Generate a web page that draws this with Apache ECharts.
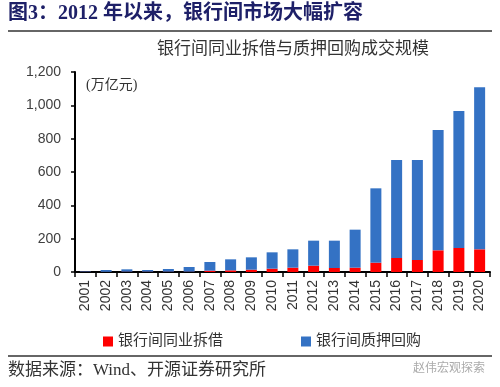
<!DOCTYPE html>
<html>
<head>
<meta charset="utf-8">
<script src="https://cdn.jsdelivr.net/npm/echarts@6/dist/echarts.min.js"></script>
<style>html,body{margin:0;padding:0;background:#fff;}#chart{width:500px;height:387px;}</style>
</head>
<body>
<div id="chart"></div>
<script>
const years = ['2001','2002','2003','2004','2005','2006','2007','2008','2009','2010','2011','2012','2013','2014','2015','2016','2017','2018','2019','2020'];
const lendingValues = [1, 1, 2, 2, 2, 2, 8, 10, 14, 20, 26, 38, 24, 26, 56, 84, 72, 130, 144, 136];
const repoValues = [3, 11, 14, 10, 16, 28, 52, 66, 74, 98, 110, 150, 164, 228, 446, 588, 600, 722, 822, 972];
const yTicks = [0, 200, 400, 600, 800, 1000, 1200];
const lendingName = '银行间同业拆借';
const repoName = '银行间质押回购';

const serifCJK = '"Liberation Serif","Noto Sans CJK SC",serif';
const chart = echarts.init(document.getElementById('chart'), null, {renderer: 'canvas'});
chart.setOption({
  animation: false,
  backgroundColor: '#fff',
  grid: {left: 75, right: 10, top: 72, bottom: 115, containLabel: false},
  xAxis: {
    type: 'category',
    data: years,
    axisLine: {lineStyle: {color: '#000', width: 2}},
    axisTick: {show: true, length: 5, lineStyle: {color: '#000', width: 1.5}},
    axisLabel: {rotate: 90, fontSize: 14, color: '#333', fontFamily: '"Liberation Sans",Arial', margin: 8}
  },
  yAxis: {
    type: 'value',
    min: yTicks[0],
    max: yTicks[yTicks.length - 1],
    interval: 200,
    splitLine: {show: false},
    axisLine: {show: true, lineStyle: {color: '#000', width: 2}},
    axisTick: {show: true, length: 4, lineStyle: {color: '#000', width: 1.5}},
    axisLabel: {fontSize: 14, color: '#404040', fontFamily: '"Liberation Sans",Arial', margin: 14,
      formatter: v => v.toLocaleString('en-US')}
  },
  legend: [
    {data: [lendingName], left: 98, top: 329, itemWidth: 10, itemHeight: 10, icon: 'rect', itemGap: 0,
     textStyle: {fontSize: 15, color: '#333', fontFamily: serifCJK}},
    {data: [repoName], left: 296, top: 329, itemWidth: 10, itemHeight: 10, icon: 'rect', itemGap: 0,
     textStyle: {fontSize: 15, color: '#333', fontFamily: serifCJK}}
  ],
  series: [
    {name: lendingName, type: 'bar', stack: 'total', data: lendingValues, barWidth: 11,
     itemStyle: {color: '#FF0000'}},
    {name: repoName, type: 'bar', stack: 'total', data: repoValues, barWidth: 11,
     itemStyle: {color: '#3472C4'}}
  ],
  graphic: [
    {type: 'text', left: 8, top: 4, style: {text: '图3：2012 年以来，银行间市场大幅扩容', fontSize: 20, fontWeight: 'bold', fill: '#1E2068', fontFamily: serifCJK}},
    {type: 'line', shape: {x1: 8, y1: 31, x2: 492, y2: 31}, style: {stroke: '#333', lineWidth: 1.5}},
    {type: 'text', x: 293, y: 50, style: {text: '银行间同业拆借与质押回购成交规模', fontSize: 17, fill: '#333', fontFamily: serifCJK, align: 'center', verticalAlign: 'middle'}},
    {type: 'text', x: 86, y: 85, style: {text: '(万亿元)', fontSize: 14, fill: '#333', fontFamily: serifCJK, verticalAlign: 'middle'}},
    {type: 'line', shape: {x1: 8, y1: 356, x2: 492, y2: 356}, style: {stroke: '#333', lineWidth: 1.5}},
    {type: 'text', x: 8, y: 371, style: {text: '数据来源：Wind、开源证券研究所', fontSize: 17, fill: '#333', fontFamily: serifCJK, verticalAlign: 'middle'}},
    {type: 'text', x: 413, y: 367, style: {text: '赵伟宏观探索', fontSize: 12, fill: '#aaa', fontFamily: '"Noto Sans CJK SC"', verticalAlign: 'middle'}}
  ]
});
</script>
</body>
</html>
